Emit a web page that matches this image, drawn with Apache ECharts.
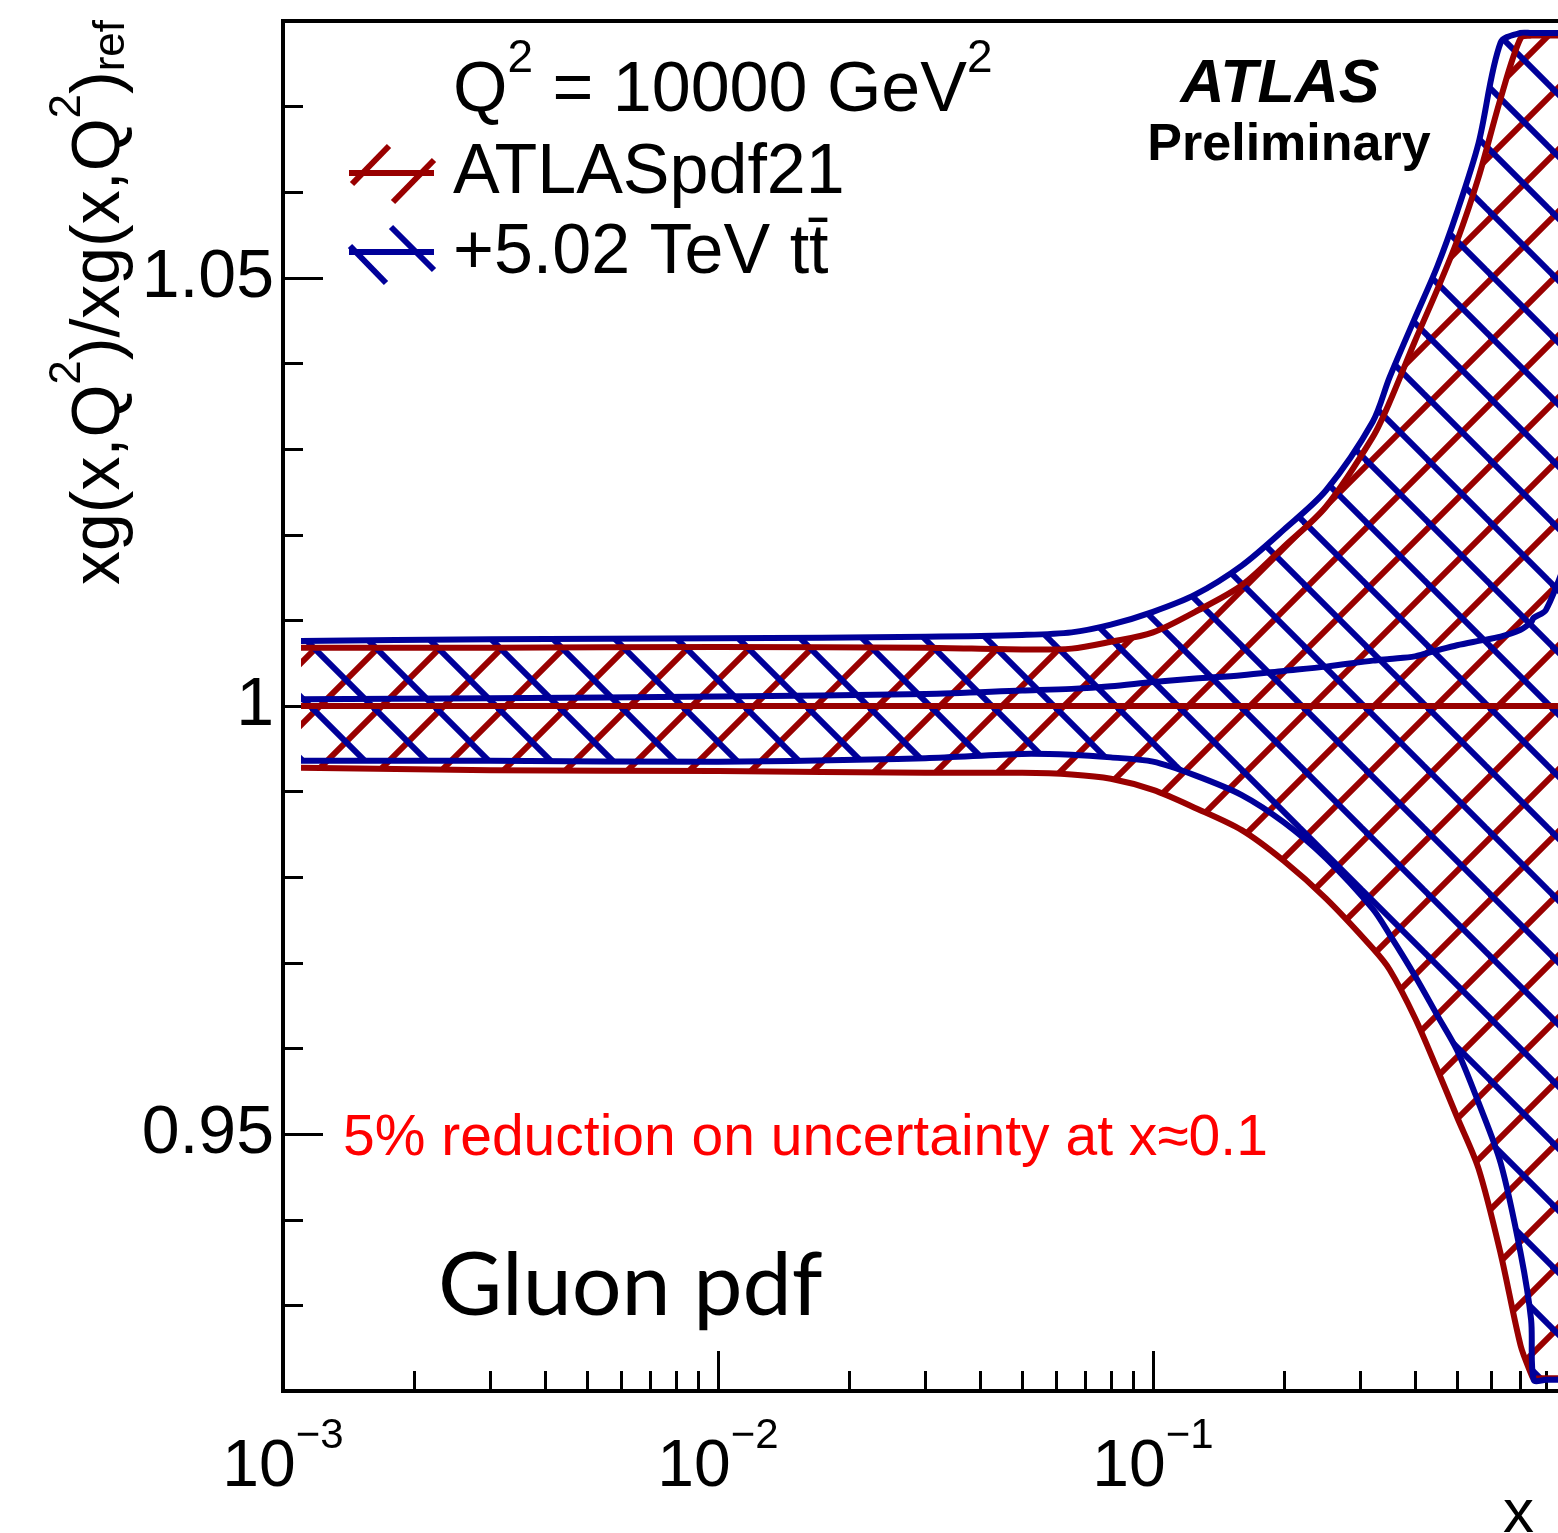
<!DOCTYPE html>
<html>
<head>
<meta charset="utf-8">
<script src="https://cdn.jsdelivr.net/npm/echarts@6/dist/echarts.min.js"></script>
<style>
html,body{margin:0;padding:0;background:#fff;}
#chart{width:1558px;height:1533px;}
</style>
</head>
<body>
<div id="chart"></div>
<script>
// ---------------- data ----------------
const xValues     = [0.0011,0.003,0.01,0.03,0.05,0.065,0.08,0.1,0.125,0.16,0.2,0.25,0.32,0.35,0.4,0.45,0.5,0.56,0.63,0.7,0.74,0.75,0.8,0.9];
// ATLASpdf21 (red)
const pdf21Up      = [1.0068,1.0068,1.0069,1.0068,1.0066,1.0067,1.0075,1.0086,1.0110,1.0141,1.0186,1.0233,1.0314,1.0355,1.0426,1.0486,1.0543,1.0617,1.0710,1.0780,1.0783,1.0783,1.0783,1.0783];
const pdf21Central = [1,1,1,1,1,1,1,1,1,1,1,1,1,1,1,1,1,1,1,1,1,1,1,1];
const pdf21Dn      = [0.9928,0.9925,0.9924,0.9922,0.9922,0.9920,0.9915,0.9902,0.9881,0.9855,0.9819,0.9775,0.9717,0.9692,0.9636,0.9576,0.9520,0.9460,0.9360,0.9253,0.9220,0.9215,0.9215,0.9215];
// +5.02 TeV ttbar (blue)
const ttUp         = [1.0076,1.0078,1.0079,1.0081,1.0083,1.0086,1.0095,1.0110,1.0130,1.0164,1.0206,1.0252,1.0332,1.0384,1.0453,1.0513,1.0577,1.0657,1.0775,1.0786,1.0786,1.0786,1.0786,1.0786];
const ttCentral    = [1.0008,1.0009,1.0011,1.0014,1.0018,1.0020,1.0023,1.0028,1.0032,1.0036,1.0041,1.0046,1.0053,1.0055,1.0058,1.0065,1.0071,1.0076,1.0081,1.0089,1.0098,1.0103,1.0112,1.0175];
const ttDn         = [0.9936,0.9936,0.9935,0.9939,0.9944,0.9943,0.9940,0.9935,0.9919,0.9896,0.9864,0.9822,0.9763,0.9733,0.9685,0.9639,0.9598,0.9537,0.9466,0.9361,0.9283,0.9213,0.9213,0.9213];

// axis ticks / labels
const xMajorDecades    = [-3,-2,-1];
const xTickExponents   = ['\u22123','\u22122','\u22121'];
const xMinorMultipliers= [2,3,4,5,6,7,8,9];
const yMajorTicks      = [0.95,1,1.05];
const yTickLabels      = ['0.95','1','1.05'];
const yMinorTicks      = [0.93,0.94,0.96,0.97,0.98,0.99,1.01,1.02,1.03,1.04,1.06,1.07];

// ---------------- helpers ----------------
const RED = '#990000', BLUE = '#000099';
const FONT = '"Liberation Sans", Arial, Helvetica, sans-serif';
const SMOOTH = 0.3;
const lx = xValues.map(v => Math.log10(v));
const xMinorTicks = [];
xMajorDecades.forEach(d => xMinorMultipliers.forEach(m => xMinorTicks.push(d + Math.log10(m))));

function makeHatch(color, dir, phase) {
  const s = 62;
  const c = document.createElement('canvas');
  c.width = s; c.height = s;
  const g = c.getContext('2d');
  g.strokeStyle = color; g.lineWidth = 6;
  for (let k = -3; k <= 3; k++) {
    const cc = phase + k * s;
    g.beginPath();
    if (dir === '/') { g.moveTo(cc + 30, -30); g.lineTo(-30, cc + 30); }
    else { g.moveTo(cc - 30, -30); g.lineTo(cc + s + 30, s + 30); }
    g.stroke();
  }
  return { image: c, repeat: 'repeat' };
}

// endpoints duplicated so that polygon edges and outline polylines get identical smoothing
function curvePoints(api, vals) {
  const pts = lx.map((x, i) => api.coord([x, vals[i]]));
  return [pts[0]].concat(pts, [pts[pts.length - 1]]);
}

function bandSeries(up, dn, pattern, z) {
  return {
    type: 'custom', coordinateSystem: 'cartesian2d', clip: true, z: z, silent: true,
    data: [[lx[0], dn[0]]],
    renderItem: function (params, api) {
      const pts = curvePoints(api, up).concat(curvePoints(api, dn).reverse());
      return { type: 'polygon', shape: { points: pts, smooth: SMOOTH },
               style: { fill: pattern, stroke: null } };
    }
  };
}

function curveSeries(vals, color, z) {
  return {
    type: 'custom', coordinateSystem: 'cartesian2d', clip: true, z: z, silent: true,
    data: [[lx[0], vals[0]]],
    renderItem: function (params, api) {
      return { type: 'polyline', shape: { points: curvePoints(api, vals), smooth: SMOOTH },
               style: { stroke: color, lineWidth: 6, fill: null, lineJoin: 'round' } };
    }
  };
}

const BASE_K = 0.39;   // centre-to-baseline offset (fraction of font size)
function topFromBaseline(baseline, F, L) { return baseline - (L / 2 + BASE_K * F); }

function label(x, baseline, text, F, opts) {
  opts = opts || {};
  const L = Math.round(F * 1.3);
  const S = Math.round(F * 0.66);
  const supBase = L / 2 + BASE_K * F - 0.44 * F;
  const Ls = 2 * (supBase - BASE_K * S);
  const col = opts.color || '#000';
  return {
    type: 'text', x: x, y: topFromBaseline(baseline, F, L), z: 100, silent: true,
    style: {
      text: text, fill: col, align: opts.align || 'left', verticalAlign: 'top',
      rich: {
        m: { fontSize: F, lineHeight: L, verticalAlign: 'bottom', fontFamily: opts.family || FONT,
             fontWeight: opts.weight || 'normal', fontStyle: opts.style || 'normal', fill: col, color: col },
        s: { fontSize: S, lineHeight: Ls, verticalAlign: 'top', fontFamily: opts.family || FONT, fill: col, color: col }
      }
    }
  };
}

function seg(x1, y1, x2, y2, color) {
  return { type: 'line', z: 100, silent: true, shape: { x1, y1, x2, y2 }, style: { stroke: color, lineWidth: 6 } };
}

// ---------------- chart ----------------
const chart = echarts.init(document.getElementById('chart'), null, { renderer: 'canvas' });

const TF = 68, TL = 88;
const option = {
  animation: false,
  backgroundColor: '#ffffff',
  grid: { left: 283, top: 21, width: 1305, height: 1370, show: true, borderColor: '#000', borderWidth: 4,
          backgroundColor: 'transparent', containLabel: false, outerBoundsMode: 'none' },
  xAxis: [
    {
      type: 'value', min: -3, max: 0, interval: 1, position: 'bottom',
      axisLine: { show: true, onZero: false, lineStyle: { color: '#000', width: 4 } },
      axisTick: { show: true, inside: true, length: 40, lineStyle: { color: '#000', width: 3 } },
      splitLine: { show: false },
      axisLabel: {
        show: true, margin: 24, color: '#000',
        formatter: function (v) {
          const r = Math.round(v);
          const i = xMajorDecades.indexOf(r);
          if (i < 0 || Math.abs(v - r) > 1e-9) return '';
          return '{b|10}{s|' + xTickExponents[i] + '}';
        },
        rich: {
          b: { fontSize: 66, lineHeight: 86, verticalAlign: 'bottom', fontFamily: FONT, color: '#000' },
          s: { fontSize: 42, lineHeight: 48, verticalAlign: 'top', fontFamily: FONT, color: '#000' }
        }
      }
    },
    {
      type: 'value', min: -3, max: 0, position: 'bottom', offset: 0,
      axisLine: { show: false, onZero: false },
      axisTick: { show: true, inside: true, length: 20, customValues: xMinorTicks, lineStyle: { color: '#000', width: 3 } },
      axisLabel: { show: false },
      splitLine: { show: false }
    }
  ],
  yAxis: [
    {
      type: 'value', min: 0.92, max: 1.08, position: 'left',
      axisLine: { show: true, onZero: false, lineStyle: { color: '#000', width: 4 } },
      axisTick: { show: true, inside: true, length: 40, customValues: yMajorTicks, lineStyle: { color: '#000', width: 3 } },
      axisLabel: {
        show: true, customValues: yMajorTicks, margin: 9, fontSize: 68, fontFamily: FONT, color: '#000',
        formatter: function (v) {
          const i = yMajorTicks.findIndex(t => Math.abs(t - v) < 1e-9);
          return i >= 0 ? yTickLabels[i] : '';
        }
      },
      splitLine: { show: false }
    },
    {
      type: 'value', min: 0.92, max: 1.08, position: 'left', offset: 0,
      axisLine: { show: false, onZero: false },
      axisTick: { show: true, inside: true, length: 20, customValues: yMinorTicks, lineStyle: { color: '#000', width: 3 } },
      axisLabel: { show: false },
      splitLine: { show: false }
    }
  ],
  series: [
    bandSeries(pdf21Up, pdf21Dn, makeHatch(RED, '/', 34), 2),
    bandSeries(ttUp, ttDn, makeHatch(BLUE, '\\', 38), 3),
    curveSeries(pdf21Up, RED, 4),
    curveSeries(pdf21Dn, RED, 4),
    curveSeries(pdf21Central, RED, 4),
    curveSeries(ttUp, BLUE, 5),
    curveSeries(ttDn, BLUE, 5),
    curveSeries(ttCentral, BLUE, 5)
  ],
  graphic: [
    // y axis title (rotated, reads bottom to top)
    {
      type: 'text', x: 46, y: 20, rotation: Math.PI / 2, z: 100, silent: true,
      style: {
        text: '{m|xg(x,Q}{s|2}{m|)/xg(x,Q}{s|2}{m|)}{r|ref}',
        align: 'right', verticalAlign: 'top', fill: '#000',
        rich: {
          m: { fontSize: TF, lineHeight: TL, verticalAlign: 'bottom', fontFamily: FONT, fill: '#000' },
          s: { fontSize: 44, lineHeight: 45, verticalAlign: 'top', fontFamily: FONT, fill: '#000' },
          r: { fontSize: 44, lineHeight: 47, verticalAlign: 'bottom', fontFamily: FONT, fill: '#000' }
        }
      }
    },
    label(453, 109, '{m|Q}{s|2}{m| = 10000 GeV}{s|2}', 70),
    label(453, 191, '{m|ATLASpdf21}', 70),
    label(453, 271, '{m|+5.02 TeV tt\u0304}', 70),
    seg(349, 173, 434, 173, RED),
    seg(352, 184, 389, 146, RED),
    seg(393, 202, 434, 160, RED),
    seg(349, 252, 434, 252, BLUE),
    seg(350, 246, 386, 283, BLUE),
    seg(391, 227, 434, 270, BLUE),
    label(1280, 100, '{m|ATLAS}', 61, { align: 'center', weight: 'bold', style: 'italic' }),
    label(1289, 158, '{m|Preliminary}', 52, { align: 'center', weight: 'bold' }),
    label(343, 1153, '{m|5% reduction on uncertainty at x\u22480.1}', 57, { color: '#ff0000' }),
    label(438, 1308, '{m|Gluon pdf}', 88, { family: 'Lato, "Open Sans", sans-serif' }),
    label(1503, 1530, '{m|x}', 62)
  ]
};
chart.setOption(option);
</script>
</body>
</html>
